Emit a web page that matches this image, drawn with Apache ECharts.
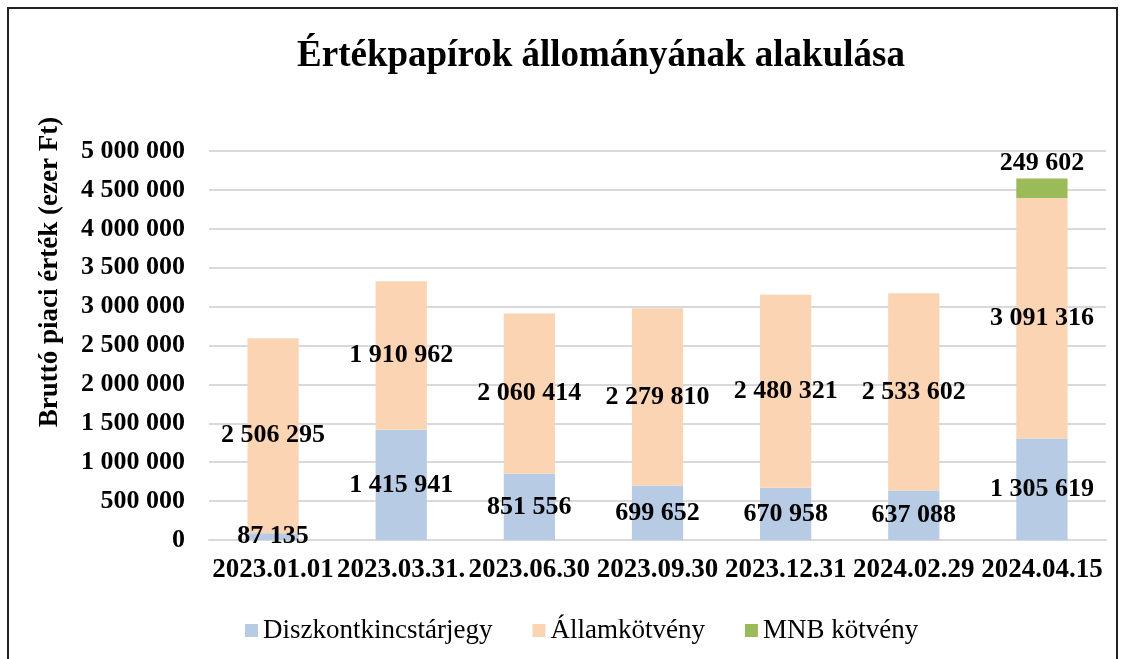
<!DOCTYPE html>
<html>
<head>
<meta charset="utf-8">
<script src="https://cdn.jsdelivr.net/npm/echarts@6/dist/echarts.min.js"></script>
<style>
  html, body { margin: 0; padding: 0; background: #fff; }
  #charts { width: 1124px; height: 659px; }
</style>
</head>
<body>
<div id="charts"></div>
<script>
const categories = ['2023.01.01', '2023.03.31.', '2023.06.30', '2023.09.30', '2023.12.31', '2024.02.29', '2024.04.15']
const diszkont = [87135, 1415941, 851556, 699652, 670958, 637088, 1305619]
const allam = [2506295, 1910962, 2060414, 2279810, 2480321, 2533602, 3091316]
const mnb = [null, null, null, null, null, null, 249602]
const yTicks = { min: 0, max: 5000000, interval: 500000 }

const serif = '"Liberation Serif", "Times New Roman", serif'
const fmt = v => String(v).replace(/\B(?=(\d{3})+(?!\d))/g, ' ')

const labelStyle = {
    show: true,
    fontFamily: serif,
    fontWeight: 'bold',
    fontSize: 26,
    color: '#000',
    formatter: p => fmt(p.value)
}

let myChart = echarts.init(document.getElementById('charts'))
// stacked bars, Excel-ish look
let option = {
    animation: false,
    title: {
        text: 'Értékpapírok állományának alakulása',
        left: 596,
        textAlign: 'center',
        top: 33,
        textStyle: { fontFamily: serif, fontWeight: 'bold', fontSize: 37, color: '#000' }
    },
    graphic: [
        {
            type: 'rect',
            shape: { x: 8, y: 8, width: 1109, height: 700 },
            style: { fill: 'none', stroke: '#222', lineWidth: 2 }
        },
        {
            type: 'text',
            x: 50,
            y: 272,
            rotation: Math.PI / 2,
            style: {
                text: 'Bruttó piaci érték (ezer Ft)',
                fontFamily: serif,
                fontWeight: 'bold',
                fontSize: 27,
                fill: '#000',
                align: 'center',
                verticalAlign: 'middle'
            }
        }
    ],
    legend: {
        top: 612,
        left: 240,
        itemWidth: 13,
        itemHeight: 13,
        itemGap: 40,
        icon: 'rect',
        textStyle: { fontFamily: serif, fontSize: 27, color: '#000' },
        data: ['Diszkontkincstárjegy', 'Államkötvény', 'MNB kötvény']
    },
    grid: { left: 209, right: 18, top: 151, bottom: 119 },
    xAxis: {
        type: 'category',
        data: categories,
        axisTick: { show: false },
        axisLine: { lineStyle: { color: '#d9d9d9', width: 2 } },
        axisLabel: { fontFamily: serif, fontWeight: 'bold', fontSize: 27, color: '#000', margin: 17, interval: 0 }
    },
    yAxis: {
        type: 'value',
        min: yTicks.min,
        max: yTicks.max,
        interval: yTicks.interval,
        axisLabel: { fontFamily: serif, fontWeight: 'bold', fontSize: 26, color: '#000', margin: 24, formatter: v => fmt(v) },
        splitLine: { lineStyle: { color: '#d9d9d9', width: 2 } }
    },
    series: [
        {
            name: 'Diszkontkincstárjegy',
            type: 'bar',
            stack: 'total',
            barWidth: '40%',
            itemStyle: { color: '#b7cbe5' },
            label: Object.assign({ position: 'inside' }, labelStyle),
            data: diszkont
        },
        {
            name: 'Államkötvény',
            type: 'bar',
            stack: 'total',
            itemStyle: { color: '#fbd4b4' },
            label: Object.assign({ position: 'inside' }, labelStyle),
            data: allam
        },
        {
            name: 'MNB kötvény',
            type: 'bar',
            stack: 'total',
            itemStyle: { color: '#9bbb59' },
            label: Object.assign({ position: 'top', distance: 2 }, labelStyle),
            data: mnb
        }
    ]
}
myChart.setOption(option)
</script>
</body>
</html>
